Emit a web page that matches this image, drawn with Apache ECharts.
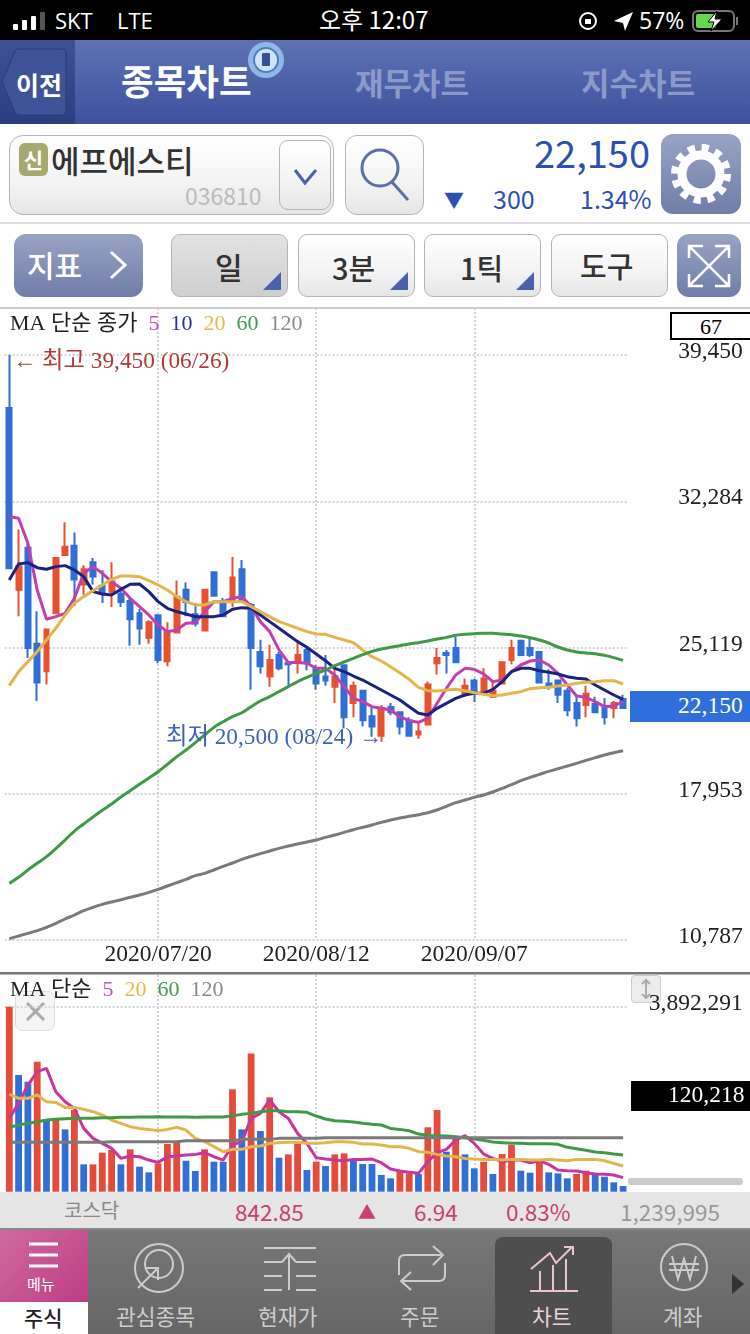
<!DOCTYPE html>
<html><head><meta charset="utf-8">
<script src="https://cdn.jsdelivr.net/npm/echarts@6/dist/echarts.min.js"></script>
<style>
html,body{margin:0;padding:0;width:750px;height:1334px;overflow:hidden;background:#fff;font-family:"Noto Sans CJK KR","Noto Sans",sans-serif}
#c{position:absolute;left:0;top:0;width:750px;height:1334px;z-index:1}
.a{position:absolute;white-space:nowrap;line-height:1;z-index:5}
.btn{position:absolute;box-sizing:border-box;border:1px solid #b5b5b5;border-radius:9px;background:linear-gradient(#fff,#f3f3f3 60%,#e6e6e6);z-index:5}
.tri{position:absolute;right:6px;bottom:6px;width:0;height:0;border-left:18px solid transparent;border-bottom:18px solid #4a62ad}
.bl{position:absolute;box-sizing:border-box;border-radius:12px;background:linear-gradient(#98a3c4,#6f7da9);z-index:5}
</style></head><body>
<div id="c"></div>
<!-- status bar -->
<div class="a" style="left:0;top:0;width:750px;height:40px;background:#000"></div>
<svg class="a" style="left:12px;top:11px" width="36" height="20"><rect x="1" y="13" width="5" height="6" rx="1" fill="#fff"/><rect x="10" y="9" width="5" height="10" rx="1" fill="#fff"/><rect x="19" y="5" width="5" height="14" rx="1" fill="#fff"/><rect x="28" y="1" width="5" height="18" rx="1" fill="#555"/></svg>
<div class="a" style="left:55px;top:9px;color:#fff;font-size:22px;font-family:'Open Sans'">SKT</div>
<div class="a" style="left:117px;top:9px;color:#fff;font-size:22px;font-family:'Open Sans'">LTE</div>
<div class="a" style="left:319px;top:7px;color:#fff;font-size:24px">오후 12:07</div>
<svg class="a" style="left:578px;top:9px" width="60" height="24"><circle cx="10" cy="12" r="8" fill="none" stroke="#fff" stroke-width="2"/><rect x="7" y="10" width="6" height="5" fill="#fff"/><path d="M36 12 L55 3 L47 22 L45 14 Z" fill="#fff"/></svg>
<div class="a" style="left:639px;top:9px;color:#fff;font-size:23px;font-family:'Open Sans'">57%</div>
<svg class="a" style="left:692px;top:9px" width="48" height="24"><rect x="1" y="2" width="41" height="20" rx="5" fill="none" stroke="#777" stroke-width="2"/><rect x="4" y="5" width="20" height="14" rx="2" fill="#63d84f"/><path d="M25 2 L16 13 L22 13 L19 22 L30 10 L23 10 Z" fill="#fff" stroke="#000"/><rect x="44" y="8" width="2" height="8" fill="#777"/></svg>
<!-- nav -->
<div class="a" style="left:0;top:40px;width:750px;height:84px;background:linear-gradient(#5e72b6,#3d519e)"></div>
<div class="a" style="left:0;top:40px;width:75px;height:84px;background:linear-gradient(#3f5297,#2c3d82)"></div>
<svg class="a" style="left:0;top:48px" width="70" height="70"><path d="M2 34 L15 3 Q16 1 20 1 L62 1 Q66 1 66 5 L66 62 Q66 67 62 67 L20 67 Q16 67 15 64 Z" fill="#3f5399" stroke="#2b3a7a"/></svg>
<div class="a" style="left:16px;top:72px;color:#fff;font-size:25px;font-weight:700">이전</div>
<div class="a" style="left:121px;top:62px;color:#fff;font-size:35.5px;font-weight:700">종목차트</div>
<svg class="a" style="left:247px;top:41px" width="38" height="38"><circle cx="19" cy="19" r="18" fill="#8fb8e6"/><circle cx="19" cy="19" r="12" fill="#cfe3f6" stroke="#4f7fc0" stroke-width="2"/><rect x="15" y="12" width="8" height="13" rx="1" fill="#33528f"/></svg>
<div class="a" style="left:355px;top:66px;color:#8c9ac9;font-size:31px;font-weight:700">재무차트</div>
<div class="a" style="left:581px;top:66px;color:#8c9ac9;font-size:31px;font-weight:700">지수차트</div>
<!-- symbol row -->
<div class="a" style="left:0;top:124px;width:750px;height:98px;background:#fff;border-bottom:2px solid #ddd"></div>
<div class="btn" style="left:9px;top:135px;width:325px;height:80px;border-radius:14px"></div>
<div class="a" style="left:19px;top:143px;width:29px;height:33px;border-radius:6px;background:#a6a86c;color:#fff;font-size:21px;text-align:center;line-height:33px;font-weight:700">신</div>
<div class="a" style="left:51px;top:144px;color:#333;font-size:31px;font-weight:500">에프에스티</div>
<div class="a" style="left:185px;top:184px;color:#bbb;font-size:23px">036810</div>
<div class="btn" style="left:279px;top:140px;width:52px;height:70px"><svg width="50" height="68"><path d="M15 29 L25 42 L36 29" fill="none" stroke="#4a62ad" stroke-width="3"/></svg></div>
<div class="btn" style="left:345px;top:135px;width:79px;height:80px;border-radius:12px"><svg width="77" height="78"><circle cx="34" cy="32" r="18" fill="none" stroke="#5b6fa8" stroke-width="3"/><path d="M46 46 L62 64" stroke="#5b6fa8" stroke-width="3"/></svg></div>
<div class="a" style="left:534px;top:133px;color:#2a50b5;font-size:38px">22,150</div>
<div class="a" style="left:444px;top:190px;color:#2a50b5;font-size:20px">▼</div>
<div class="a" style="left:493px;top:186px;color:#2a50b5;font-size:25px">300</div>
<div class="a" style="left:580px;top:186px;color:#2a50b5;font-size:25px">1.34%</div>
<div class="bl" style="left:661px;top:134px;width:80px;height:80px"><svg width="80" height="80"><g fill="none" stroke="#fff"><circle cx="40" cy="40" r="19" stroke-width="9"/><circle cx="40" cy="40" r="26" stroke-width="8" stroke-dasharray="7 6.6"/></g></svg></div>
<!-- toolbar -->
<div class="a" style="left:0;top:224px;width:750px;height:83px;background:#fff;border-bottom:2px solid #ccc"></div>
<div class="bl" style="left:14px;top:234px;width:129px;height:63px"></div>
<div class="a" style="left:27px;top:249px;color:#fff;font-size:30px;font-weight:500">지표</div>
<svg class="a" style="left:108px;top:250px" width="22" height="30"><path d="M3 2 L17 15 L3 28" fill="none" stroke="#fff" stroke-width="3"/></svg>
<div class="btn" style="left:171px;top:234px;width:117px;height:63px;background:linear-gradient(#e2e2e2,#cfcfcf)"><div class="tri"></div></div>
<div class="a" style="left:215px;top:251px;color:#333;font-size:30px;font-weight:500">일</div>
<div class="btn" style="left:298px;top:234px;width:117px;height:63px"><div class="tri"></div></div>
<div class="a" style="left:332px;top:253px;color:#333;font-size:29px;font-weight:500">3분</div>
<div class="btn" style="left:424px;top:234px;width:117px;height:63px"><div class="tri"></div></div>
<div class="a" style="left:460px;top:253px;color:#333;font-size:29px;font-weight:500">1틱</div>
<div class="btn" style="left:551px;top:234px;width:117px;height:63px"></div>
<div class="a" style="left:580px;top:251px;color:#333;font-size:29px;font-weight:500">도구</div>
<div class="bl" style="left:677px;top:234px;width:64px;height:63px"><svg width="64" height="63"><g fill="none" stroke="#fff" stroke-width="2.5"><path d="M12 24V12H26M38 12H52V24M52 40V52H38M26 52H12V40M12 12L52 52M52 12L12 52"/></g></svg></div>
<!-- pane controls -->
<div class="a" style="left:670px;top:312px;width:80px;height:28px;box-sizing:border-box;border:2px solid #000;border-right:none;background:#fff;color:#000;font:22px 'Liberation Serif';text-align:center;line-height:25px;padding-right:0">67</div>
<div class="a" style="left:630px;top:691px;width:120px;height:31px;background:#2e6fdc"></div>
<div class="a" style="left:678px;top:692px;color:#fff;font:23.5px 'Liberation Serif'">22,150</div>
<div class="a" style="left:631px;top:1081px;width:119px;height:30px;background:#000"></div>
<div class="a" style="left:668px;top:1081px;color:#fff;font:23.5px 'Liberation Serif'">120,218</div>
<div class="a" style="left:15px;top:991px;width:40px;height:40px;box-sizing:border-box;border:1px solid #ddd;border-radius:7px;background:#f5f5f5;z-index:0"><svg width="38" height="38"><path d="M11 11L28 28M28 11L11 28" stroke="#aaa" stroke-width="3"/></svg></div>
<div class="a" style="left:631px;top:975px;width:30px;height:28px;box-sizing:border-box;border:1px solid #ccc;border-radius:4px;background:#ececec;z-index:0"><svg width="28" height="26"><path d="M14 4V22M10 8L14 4L18 8M10 18L14 22L18 18" fill="none" stroke="#aaa" stroke-width="2"/></svg></div>
<div class="a" style="left:628px;top:1178px;width:115px;height:7px;border-radius:3px;background:#ccc"></div>
<!-- index strip -->
<div class="a" style="left:0;top:1192px;width:750px;height:38px;background:#e5e5e5;border-bottom:2px solid #888;box-sizing:border-box"></div>
<div class="a" style="left:64px;top:1200px;color:#888;font-size:20px">코스닥</div>
<div class="a" style="left:235px;top:1200px;color:#c8416f;font-size:22.5px">842.85</div>
<div class="a" style="left:358px;top:1202px;color:#c8416f;font-size:18px">▲</div>
<div class="a" style="left:414px;top:1200px;color:#c8416f;font-size:22.5px">6.94</div>
<div class="a" style="left:506px;top:1200px;color:#c8416f;font-size:22.5px">0.83%</div>
<div class="a" style="left:620px;top:1200px;color:#999;font-size:22.5px">1,239,995</div>
<!-- footer -->
<div class="a" style="left:0;top:1230px;width:750px;height:104px;background:linear-gradient(#777,#666)"></div>
<div class="a" style="left:0;top:1230px;width:88px;height:72px;background:linear-gradient(135deg,#cf6a9e,#bd3c84)"></div>
<svg class="a" style="left:28px;top:1241px" width="32" height="30"><path d="M1 3H30M1 14H30M1 25H30" stroke="#fff" stroke-width="3"/></svg>
<div class="a" style="left:27px;top:1276px;color:#fff;font-size:15px">메뉴</div>
<div class="a" style="left:0;top:1302px;width:88px;height:32px;background:#fff"></div>
<div class="a" style="left:24px;top:1307px;color:#222;font-size:21px;font-weight:500">주식</div>
<div class="a" style="left:495px;top:1237px;width:117px;height:97px;border-radius:8px 8px 0 0;background:#4e4e4e"></div>
<svg class="a" style="left:130px;top:1240px" width="60" height="60"><g fill="none" stroke="#ccc" stroke-width="2"><ellipse cx="29" cy="28" rx="24" ry="24"/><circle cx="29" cy="24" r="14"/><path d="M8 48L28 28M16 28H28V40"/></g></svg>
<svg class="a" style="left:260px;top:1245px" width="60" height="50"><g fill="none" stroke="#ccc" stroke-width="2"><path d="M4 3H56M4 17H22M36 17H56M4 31H22M36 31H56M4 45H22M36 45H56M29 45V9M22 17L29 9L36 17"/></g></svg>
<svg class="a" style="left:395px;top:1243px" width="54" height="52"><g fill="none" stroke="#ccc" stroke-width="2"><path d="M46 12H10Q4 12 4 18V32M38 3L48 12L38 22M8 38H44Q50 38 50 32V20M16 29L6 38L16 47"/></g></svg>
<svg class="a" style="left:528px;top:1245px" width="52" height="50"><g fill="none" stroke="#e9c4d2" stroke-width="2"><path d="M3 24L22 8L28 18L44 2M36 2H45V10M2 46H50M12 46V26M25 46V20M38 46V14"/></g></svg>
<svg class="a" style="left:658px;top:1241px" width="52" height="52"><g fill="none" stroke="#ccc" stroke-width="2"><circle cx="26" cy="26" r="23"/><path d="M14 15L20 38L26 18L32 38L38 15M11 23H41M11 29H41"/></g></svg>
<div class="a" style="left:116px;top:1305px;color:#ccc;font-size:21.5px">관심종목</div>
<div class="a" style="left:258px;top:1305px;color:#ccc;font-size:21.5px">현재가</div>
<div class="a" style="left:400px;top:1305px;color:#ccc;font-size:21.5px">주문</div>
<div class="a" style="left:532px;top:1305px;color:#ecd2dc;font-size:21.5px">차트</div>
<div class="a" style="left:663px;top:1305px;color:#ccc;font-size:21.5px">계좌</div>
<svg class="a" style="left:730px;top:1272px" width="16" height="24"><path d="M2 2L14 12L2 22Z" fill="#333"/></svg>
<script>
const categories=['06/26','06/29','06/30','07/01','07/02','07/03','07/06','07/07','07/08','07/09','07/10','07/13','07/14','07/15','07/16','07/17','07/20','07/21','07/22','07/23','07/24','07/27','07/28','07/29','07/30','07/31','08/03','08/04','08/05','08/06','08/07','08/10','08/11','08/12','08/13','08/14','08/18','08/19','08/20','08/21','08/24','08/25','08/26','08/27','08/28','08/31','09/01','09/02','09/03','09/04','09/07','09/08','09/09','09/10','09/11','09/14','09/15','09/16','09/17','09/18','09/21','09/22','09/23','09/24','09/25','09/28','09/29'].map(d=>'2020/'+d);
const dateTicks=['2020/07/20','2020/08/12','2020/09/07'];
const priceTicks=[10787,17953,25119,32284,39450];
const volumeTicks=[3892291];
// open, close, low, high
const candles=[[36850,29000,29000,39450],[27950,29100,26650,30900],[30000,25100,24600,30200],[25300,23400,22500,26900],[23950,26000,23300,26050],[26800,29500,26800,29500],[29650,30050,29650,31250],[30100,28450,27150,30750],[28200,28950,27700,29150],[29300,28600,28200,29500],[28150,27750,27300,28900],[27850,28350,27100,29300],[27750,27350,27100,28100],[27400,26500,25200,27550],[26800,26050,25250,27000],[25600,26350,25300,26450],[26700,24500,24350,26750],[24450,25900,24200,26350],[25850,27600,25800,28400],[27950,27350,26650,28300],[26750,26300,26150,27300],[25950,27950,25950,28000],[28800,27650,27600,28850],[27400,26650,26650,27550],[27450,28550,27100,29550],[28950,27450,27400,29400],[27200,25100,23050,27300],[24900,24200,23850,25500],[23700,24500,23200,25250],[24750,24100,24000,24900],[24350,24300,23200,24450],[24400,24750,23850,25500],[25000,24350,24000,25100],[24100,23350,23050,24250],[23700,23500,23250,24750],[23200,23700,22400,24100],[24250,21700,21150,24300],[22400,23250,21700,23450],[23000,21550,21250,23050],[21750,21250,20750,22250],[20800,22150,20500,22300],[22200,21950,21800,22400],[21950,21250,20850,21950],[21550,20800,20750,21700],[20850,21000,20650,21500],[21350,23300,21300,23450],[24350,24600,23800,25100],[24850,24750,23850,25000],[25100,24400,24350,25650],[22800,23250,22700,23600],[23500,22900,22450,23600],[22950,23600,22850,24100],[22700,23000,22650,23450],[23350,24400,23300,24400],[24500,25100,24300,25500],[25450,24750,24700,25500],[25100,24750,24650,25550],[24900,23400,23350,24900],[23350,23250,23050,24050],[23500,22800,22400,23500],[23000,22050,21750,23150],[22400,21650,21250,22800],[22300,22850,21700,23250],[22350,21950,21900,22700],[22250,21700,21350,22650],[22150,22400,21650,22500],[22600,22150,22150,22800]];
const ma5=[31530,31448,30224,27937,26500,26631,26794,27529,28754,29081,28754,28346,28019,27529,27121,26713,26223,25896,25978,26304,26337,26876,27366,27366,27529,27611,27121,26386,25896,25000,24378,24378,24345,24100,24097,23771,23199,22628,22464,22219,22138,22056,21729,21534,21452,21648,22383,23118,23771,24097,24048,23820,23444,23526,23934,24261,24457,24506,24261,23852,23281,22742,22677,22464,22219,22252,22464];
const ma10=[28427,29211,29277,29031,28950,29081,29130,28917,28591,27856,27742,27693,27970,28215,28231,27856,27366,27039,26876,26762,26631,26631,26631,26713,26990,27072,27039,26713,26386,26060,25733,25406,25129,24802,24473,24097,23934,23722,23526,23281,23036,22791,22546,22219,21893,21811,22138,22383,22628,22791,22873,22873,23069,23444,23934,24097,24097,23983,23901,23820,23689,23607,23575,23281,23036,22791,22579];
const ma20=[23251,23937,24427,24916,25488,26060,26713,27284,27611,27905,28182,28460,28623,28623,28591,28395,28182,27937,27611,27366,27203,27203,27366,27366,27366,27366,27121,26876,26631,26386,26223,26060,25896,25782,25763,25616,25485,25355,24995,24669,24457,24179,23885,23558,23167,23003,22987,23036,23069,23003,22905,22824,22758,22791,22873,22954,23101,23150,23167,23232,23281,23362,23411,23444,23493,23493,23330];
const ma60=[13563,13857,14217,14543,14870,15262,15686,16127,16470,16813,17140,17450,17793,18103,18414,18724,19034,19393,19769,20095,20455,20830,21206,21484,21728,21924,22218,22496,22712,22957,23202,23447,23659,23855,24016,24228,24408,24587,24767,24930,25044,25126,25208,25289,25355,25436,25534,25616,25714,25763,25796,25812,25812,25779,25747,25681,25600,25485,25338,25142,24995,24898,24849,24816,24734,24620,24489];
const ma120=[10853,10983,11114,11245,11408,11604,11816,12012,12224,12388,12535,12649,12763,12878,12992,13123,13270,13433,13596,13759,13939,14053,14217,14396,14560,14739,14886,15017,15148,15278,15392,15490,15588,15686,15817,15931,16062,16192,16307,16421,16552,16666,16764,16846,16927,17025,17156,17335,17515,17646,17776,17891,18038,18217,18397,18593,18756,18903,19050,19181,19311,19442,19589,19720,19850,19965,20063];
const volume=[3892291,2455000,2314000,2735000,1508000,1508000,1311000,1718000,575000,575000,821000,877000,575000,891000,526000,407000,596000,1003000,1052000,652000,435000,891000,631000,631000,2153000,1311000,2910000,1276000,1985000,715000,785000,1017000,456000,631000,540000,785000,806000,666000,582000,582000,351000,281000,435000,386000,372000,1354000,1718000,842000,1122000,785000,491000,631000,372000,792000,982000,442000,400000,666000,407000,386000,281000,372000,442000,351000,316000,196000,120218];
const volumeUp=[1,0,0,1,0,1,0,1,0,1,1,1,0,1,0,0,1,1,1,0,0,1,0,0,1,0,1,0,1,0,1,1,0,1,0,1,1,0,0,0,0,0,1,1,0,1,1,0,1,0,0,1,0,1,1,0,0,1,0,0,0,1,1,0,0,0,0];
const vma5=[1543,1858,2244,2525,2595,2104,1894,1753,1332,1122,1017,912,701,750,736,666,617,736,750,771,785,821,736,666,982,1052,1543,1648,1929,1683,1543,1227,1017,715,687,666,652,680,680,687,610,477,435,407,386,631,821,891,1087,1178,1017,792,701,631,666,666,610,652,575,456,442,435,400,372,365,351,295];
const vma20=[2055,1964,1964,2034,1894,1879,1774,1774,1732,1683,1613,1508,1438,1368,1332,1311,1283,1311,1354,1297,1122,1052,947,842,891,891,947,961,1017,1031,1038,1038,1017,1017,1031,1052,1052,1038,1003,1003,982,947,947,912,842,828,785,750,736,701,687,680,680,666,680,680,666,666,680,666,652,680,680,680,652,596,540];
const vma60=[1354,1403,1438,1473,1508,1522,1536,1543,1543,1543,1557,1557,1564,1564,1571,1571,1578,1571,1571,1571,1564,1571,1571,1571,1599,1627,1648,1683,1704,1704,1683,1683,1669,1592,1529,1494,1480,1466,1438,1417,1403,1332,1311,1283,1213,1185,1178,1171,1157,1136,1108,1080,1045,1031,1017,1017,1010,1010,1010,996,933,905,870,835,821,792,771];
const vma120=[1038,1038,1038,1038,1038,1038,1038,1038,1038,1038,1038,1052,1052,1052,1052,1052,1052,1052,1052,1073,1073,1073,1073,1073,1073,1101,1101,1101,1101,1122,1122,1122,1122,1122,1136,1136,1136,1136,1136,1136,1136,1136,1136,1136,1136,1136,1136,1136,1136,1136,1136,1136,1136,1136,1136,1136,1136,1136,1136,1136,1136,1136,1136,1136,1136,1136,1136];

const RED='#e8502e',BLUE='#2f6fd6',VRED='#e54a3a';
const SERIF='"Liberation Serif","Noto Sans CJK KR",serif';
const fmt=v=>Number(v).toLocaleString('en-US');
const dot={show:true,lineStyle:{type:'dotted',color:'#d4d4d4',width:2}};
const showTick=(i,c)=>dateTicks.includes(c);
function line(name,data,color,xi,w,sm){return {name,type:'line',data,xAxisIndex:xi,yAxisIndex:xi,showSymbol:false,symbol:'none',smooth:sm||false,animation:false,z:5,lineStyle:{color,width:w||3},itemStyle:{color},silent:true};}
const chart=echarts.init(document.getElementById('c'),null,{renderer:'canvas'});
function legendText(parts,x,y){const f='22px '+SERIF;return {type:'text',left:x,top:y,z:10,style:{text:parts.map(p=>'{'+p[1]+'|'+p[0]+'}').join(''),rich:{k:{fill:'#222',font:f},m:{fill:'#c94bb8',font:f},n:{fill:'#27329a',font:f},g:{fill:'#e3bb45',font:f},h:{fill:'#3f9a55',font:f},a:{fill:'#8a8a8a',font:f}}}};}
chart.setOption({
 animation:false,
 grid:[{left:4.65,width:623.1,top:308,height:632},{left:4.65,width:623.1,top:975,height:216.7}],
 xAxis:[
  {type:'category',data:categories,gridIndex:0,axisLine:{show:false},axisTick:{show:false},splitLine:{...dot,interval:showTick,alignWithLabel:true},axisLabel:{interval:showTick,color:'#222',fontFamily:SERIF,fontSize:23.5,margin:3,hideOverlap:false}},
  {type:'category',data:categories,gridIndex:1,axisLine:{show:false},axisTick:{show:false},splitLine:{...dot,interval:showTick,alignWithLabel:true},axisLabel:{show:false}}
 ],
 yAxis:[
  {type:'value',gridIndex:0,position:'right',min:10787,max:41753,axisLine:{show:false},axisTick:{show:false,customValues:priceTicks},splitLine:dot,axisLabel:{customValues:priceTicks,formatter:fmt,color:'#222',fontFamily:SERIF,fontSize:23.5,align:'right',margin:115,verticalAlign:'bottom',lineHeight:6}},
  {type:'value',gridIndex:1,position:'right',min:0,max:4559000,axisLine:{show:false},axisTick:{show:false,customValues:volumeTicks},splitLine:dot,axisLabel:{customValues:volumeTicks,formatter:fmt,color:'#222',fontFamily:SERIF,fontSize:23.5,align:'right',margin:115,verticalAlign:'bottom',lineHeight:6}}
 ],
 series:[
  {name:'price',type:'candlestick',data:candles,xAxisIndex:0,yAxisIndex:0,barWidth:5.4,z:3,silent:true,itemStyle:{color:RED,color0:BLUE,borderColor:RED,borderColor0:BLUE,borderWidth:2}},
  line('MA5',ma5,'#c13fb0',0),line('MA10',ma10,'#1a2480',0),line('MA20',ma20,'#e3b54a',0),line('MA60',ma60,'#3f9a45',0,3,0.4),line('MA120',ma120,'#7a7a7a',0,3,0.4),
  {name:'volume',type:'bar',data:volume.map((v,i)=>({value:v,itemStyle:{color:volumeUp[i]?VRED:BLUE}})),xAxisIndex:1,yAxisIndex:1,barWidth:6.8,z:3,silent:true},
  line('VMA5',vma5.map(v=>v*1000),'#c8359e',1),line('VMA20',vma20.map(v=>v*1000),'#e3b54a',1),line('VMA60',vma60.map(v=>v*1000),'#3f9a45',1),line('VMA120',vma120.map(v=>v*1000),'#7a7a7a',1)
 ],
 graphic:[
  legendText([['MA 단순 종가  ','k'],['5  ','m'],['10  ','n'],['20  ','g'],['60  ','h'],['120','a']],10,313),
  legendText([['MA 단순  ','k'],['5  ','m'],['20  ','g'],['60  ','h'],['120','a']],10,979),
  {type:'text',left:13,top:350,z:10,style:{text:'← 최고 39,450 (06/26)',fill:'#b23a34',font:'23.3px '+SERIF}},
  {type:'text',left:166,top:726,z:10,style:{text:'최저 20,500 (08/24) →',fill:'#3f63b8',font:'23.3px '+SERIF}},
  {type:'rect',z:1,shape:{x:0,y:972,width:750,height:2.5},style:{fill:'#777'}}
 ]
});
</script>
</body></html>
